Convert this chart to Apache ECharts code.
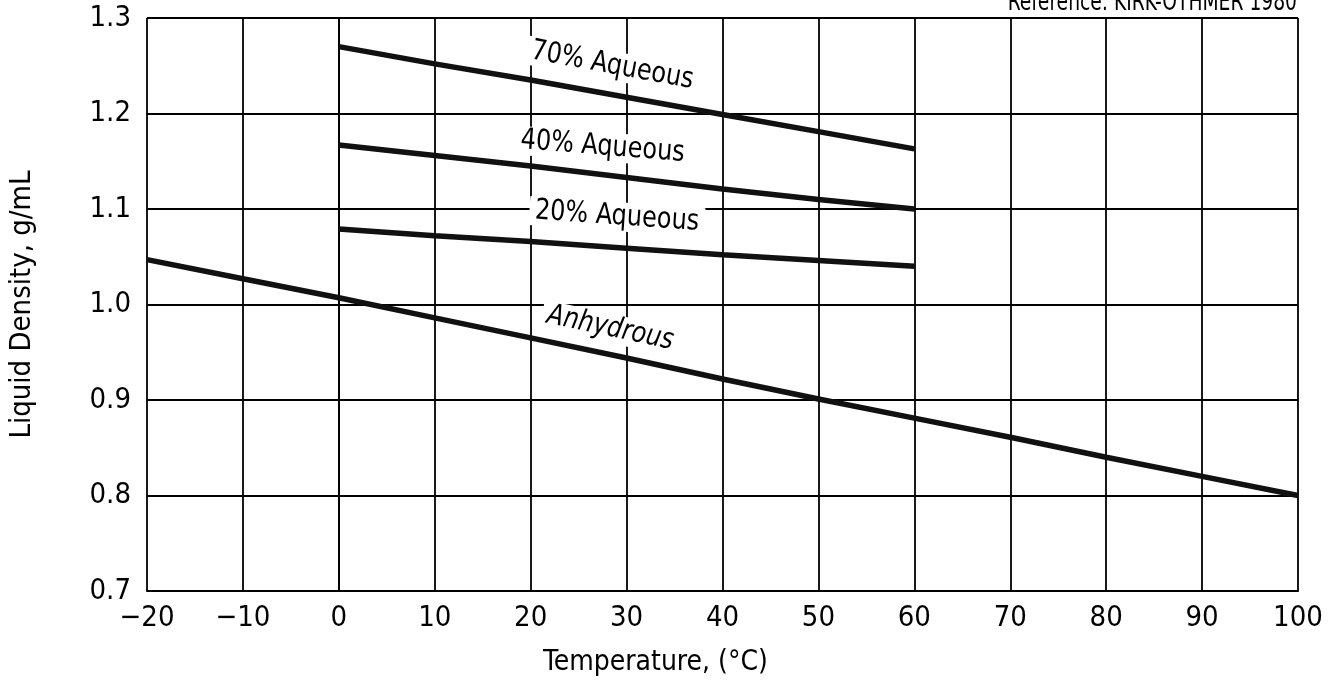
<!DOCTYPE html>
<html>
<head>
<meta charset="utf-8">
<title>Liquid Density vs Temperature</title>
<script src="https://cdn.jsdelivr.net/npm/echarts@6/dist/echarts.min.js"></script>
<style>
  html, body { margin: 0; padding: 0; background: #fff; }
  #chart { width: 1337px; height: 684px; }
</style>
</head>
<body>
<div id="chart"></div>
<script>
// Temperature points (°C)
const tempsFull = [-20, -10, 0, 10, 20, 30, 40, 50, 60, 70, 80, 90, 100];
const tempsAq = [0, 10, 20, 30, 40, 50, 60];

// Liquid density, g/mL
const anhydrous = [1.047, 1.027, 1.007, 0.986, 0.965, 0.944, 0.922, 0.901, 0.881, 0.861, 0.840, 0.820, 0.800];
const aq70 = [1.270, 1.252, 1.235, 1.217, 1.199, 1.181, 1.163];
const aq40 = [1.167, 1.156, 1.145, 1.133, 1.121, 1.110, 1.100];
const aq20 = [1.079, 1.072, 1.066, 1.059, 1.052, 1.046, 1.040];

// Curve labels: text, anchor temperature, anchor density, rotation (deg)
const curveLabels = [
  { text: '70% Aqueous', t: 28.5, d: 1.250, rot: 10.5, italic: false },
  { text: '40% Aqueous', t: 27.5, d: 1.165, rot: 4.5, italic: false },
  { text: '20% Aqueous', t: 29, d: 1.092, rot: 4, italic: false },
  { text: 'Anhydrous', t: 28.3, d: 0.975, rot: 12, italic: true }
];

const FONT = "'DejaVu Sans Condensed', 'Liberation Sans Narrow', 'Liberation Sans', sans-serif";

const chart = echarts.init(document.getElementById('chart'));

function pairs(xs, ys) { return xs.map((x, i) => [x, ys[i]]); }

function lineSeries(name, xs, ys) {
  return {
    name: name,
    type: 'line',
    data: pairs(xs, ys),
    showSymbol: false,
    smooth: false,
    lineStyle: { color: '#111', width: 5.5 },
    z: 5
  };
}

chart.setOption({
  animation: false,
  backgroundColor: '#fff',
  grid: { left: 147, right: 39, top: 18, bottom: 93, containLabel: false,
    outerBoundsMode: 'none' },
  xAxis: {
    type: 'value', min: -20, max: 100, interval: 10,
    name: 'Temperature, (°C)', nameLocation: 'middle', nameGap: 58,
    nameTextStyle: { fontFamily: FONT, fontSize: 28, color: '#000',
      padding: [0, 134, 0, 0] },
    axisLine: { show: true, lineStyle: { color: '#000', width: 2 } },
    axisTick: { show: false },
    axisLabel: { fontFamily: FONT, fontSize: 29, color: '#000', margin: 13,
      formatter: v => String(v).replace('-', '\u2212') },
    splitLine: { show: true, lineStyle: { color: '#000', width: 1.8 } }
  },
  yAxis: {
    type: 'value', min: 0.7, max: 1.3, interval: 0.1,
    name: 'Liquid Density, g/mL', nameLocation: 'middle', nameGap: 110,
    nameTextStyle: { fontFamily: FONT, fontSize: 29, color: '#000' },
    axisLine: { show: true, lineStyle: { color: '#000', width: 2 } },
    axisTick: { show: false },
    axisLabel: { fontFamily: FONT, fontSize: 29, color: '#000', margin: 16,
      formatter: v => v.toFixed(1) },
    splitLine: { show: true, lineStyle: { color: '#000', width: 1.8 } }
  },
  series: [
    lineSeries('Anhydrous', tempsFull, anhydrous),
    lineSeries('70% Aqueous', tempsAq, aq70),
    lineSeries('40% Aqueous', tempsAq, aq40),
    lineSeries('20% Aqueous', tempsAq, aq20)
  ]
});

// Place the rotated curve labels at their data coordinates
const graphics = curveLabels.map(l => {
  const p = chart.convertToPixel({ gridIndex: 0 }, [l.t, l.d]);
  return {
    type: 'text',
    x: p[0], y: p[1],
    rotation: -l.rot * Math.PI / 180,
    scaleX: 0.92,
    z: 10,
    style: {
      text: l.text,
      fontFamily: FONT,
      fontSize: 29,
      fontStyle: l.italic ? 'italic' : 'normal',
      fill: '#000',
      align: 'center',
      verticalAlign: 'middle',
      backgroundColor: '#fff',
      padding: [0, 6]
    }
  };
});

graphics.push({
  type: 'text',
  x: 1297, y: -10,
  scaleX: 0.8,
  style: {
    text: 'Reference: KIRK-OTHMER 1980',
    fontFamily: FONT,
    fontSize: 26,
    fill: '#000',
    align: 'right',
    verticalAlign: 'top'
  }
});

chart.setOption({ graphic: graphics });
</script>
</body>
</html>
